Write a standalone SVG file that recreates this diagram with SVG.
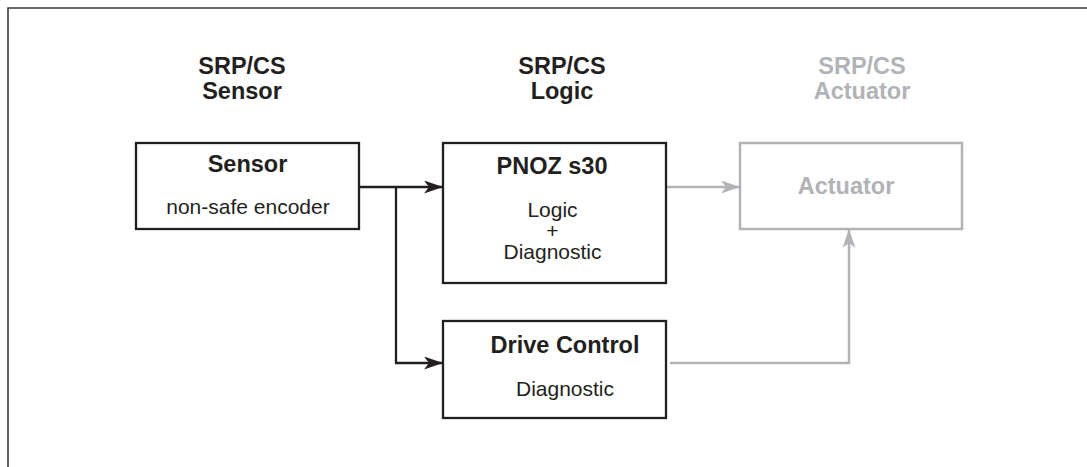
<svg xmlns="http://www.w3.org/2000/svg" width="1087" height="467" viewBox="0 0 1087 467">
<defs>
<style>
.bg{fill:#ffffff}
.frame{fill:none;stroke:#3a3a3c;stroke-width:1.6}
.box{fill:#ffffff;stroke:#231f20;stroke-width:2.3}
.gbox{fill:#ffffff;stroke:#b1b3b6;stroke-width:2.5}
.t{font-family:"Liberation Sans",Arial,sans-serif;fill:#231f20;text-anchor:middle}
.b{font-weight:bold;font-size:23.5px}
.r{font-size:21px}
.g{fill:#b1b3b6}
.wk{fill:none;stroke:#231f20;stroke-width:2.3}
.wg{fill:none;stroke:#b1b3b6;stroke-width:2.5}
</style>
<marker id="ak" markerUnits="userSpaceOnUse" markerWidth="22" markerHeight="14" refX="19" refY="6.5" orient="auto">
<path d="M0,0 L19,6.5 L0,13 L5,6.5 Z" fill="#231f20"/>
</marker>
<marker id="ag" markerUnits="userSpaceOnUse" markerWidth="22" markerHeight="14" refX="19" refY="6.5" orient="auto">
<path d="M0,0 L19,6.5 L0,13 L5,6.5 Z" fill="#b1b3b6"/>
</marker>
</defs>
<rect class="bg" x="0" y="0" width="1087" height="467"/>
<path class="frame" d="M8,467 V8 H1087"/>

<g id="headers">
<text class="t b" x="242" y="74">SRP/CS</text>
<text class="t b" x="242" y="99">Sensor</text>
<text class="t b" x="562" y="74">SRP/CS</text>
<text class="t b" x="562" y="99">Logic</text>
<text class="t b g" x="862" y="74">SRP/CS</text>
<text class="t b g" x="862" y="99">Actuator</text>
</g>

<g id="connectors">
<path class="wk" d="M359,187 H443" marker-end="url(#ak)"/>
<path class="wk" d="M396,187 V363 H443" marker-end="url(#ak)"/>
<path class="wg" d="M666,187 H740" marker-end="url(#ag)"/>
<path class="wg" d="M670,363 H849 V229" marker-end="url(#ag)"/>
</g>

<g id="sensor">
<rect class="box" x="136" y="143" width="223" height="86"/>
<text class="t b" x="247.5" y="172">Sensor</text>
<text class="t r" x="248" y="214">non-safe encoder</text>
</g>

<g id="pnoz">
<rect class="box" x="443" y="143" width="223" height="140"/>
<text class="t b" x="552" y="174">PNOZ s30</text>
<text class="t r" x="552.5" y="217">Logic</text>
<text class="t r" x="552.5" y="238">+</text>
<text class="t r" x="552.5" y="259">Diagnostic</text>
</g>

<g id="actuator">
<rect class="gbox" x="740" y="143" width="222" height="86"/>
<text class="t b g" x="846" y="194">Actuator</text>
</g>

<g id="drive">
<rect class="box" x="443" y="321" width="223" height="97"/>
<text class="t b" x="565" y="353">Drive Control</text>
<text class="t r" x="565" y="396">Diagnostic</text>
</g>
</svg>
